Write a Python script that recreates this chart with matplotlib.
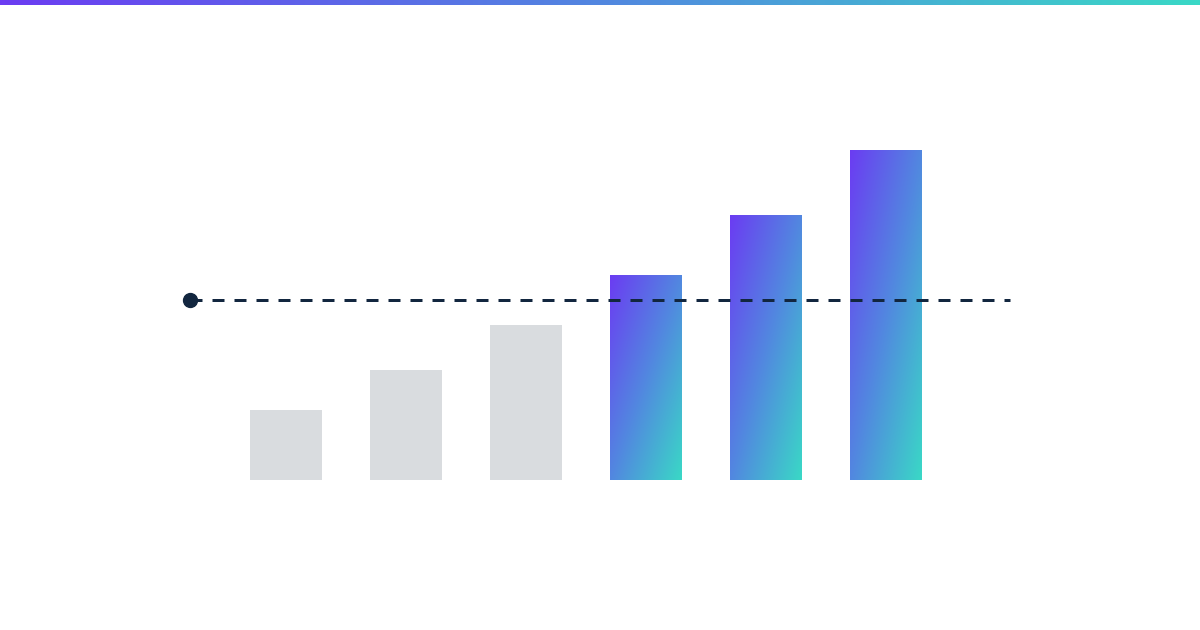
import numpy as np
import matplotlib
matplotlib.use("Agg")
import matplotlib.pyplot as plt
from matplotlib.colors import LinearSegmentedColormap
from matplotlib.patches import Rectangle

# values (10 px per unit)
categories = ["1", "2", "3", "4", "5", "6"]
values = [7.0, 11.0, 15.5, 20.5, 26.5, 33.0]
highlighted = [False, False, False, True, True, True]
target = 18.0

PURPLE = "#6B3CF2"
TEAL = "#3AD8C6"
GREY = "#D9DCDF"
NAVY = "#12263F"
grad = LinearSegmentedColormap.from_list("brand", [PURPLE, "#5287E0", TEAL])

W, H, DPI = 1200, 630, 100
fig = plt.figure(figsize=(W / DPI, H / DPI), dpi=DPI)
fig.patch.set_facecolor("white")

# bars: centre of first at 286 px, 120 px spacing, baseline 150 px from bottom
ax = fig.add_axes([0, 0, 1, 1])
ax.set_xlim(-286 / 120, (W - 286) / 120)
ax.set_ylim(-15, 48)
ax.axis("off")

x = np.arange(len(categories))
bar_w = 0.6
bars = ax.bar(x, values, width=bar_w, color=GREY, zorder=1)

# diagonal gradient in bar-relative units (top-left purple -> bottom-right teal)
uu, vv = np.meshgrid(np.linspace(0, 1, 100), np.linspace(0, 1, 300))
t = (uu + vv) / 2
for rect, hl in zip(bars, highlighted):
    if not hl:
        continue
    rect.set_facecolor("none")
    x0, w, h = rect.get_x(), rect.get_width(), rect.get_height()
    im = ax.imshow(t, cmap=grad, vmin=0, vmax=1, extent=[x0, x0 + w, 0, h],
                   origin="upper", aspect="auto", zorder=1, interpolation="bilinear")
    clip = Rectangle((x0, 0), w, h, transform=ax.transData)
    im.set_clip_path(clip)

# target line with dot at its left end (3 px thick, 12 px dash / 10 px gap)
line_start, line_end = -0.8, (1010 - 286) / 120
ax.hlines(target, line_start, line_end, colors=NAVY, linewidth=2.16,
          linestyles=(0, (4, 10 / 3)), zorder=3, capstyle="butt")
ax.plot([line_start], [target], "o", color=NAVY, markersize=10, zorder=4)

# gradient strip on top edge
strip = fig.add_axes([0, 1 - 5 / H, 1, 5 / H])
strip.imshow(np.linspace(0, 1, 256)[None, :], cmap=grad, aspect="auto")
strip.axis("off")

fig.savefig("out.png", dpi=DPI, facecolor="white")
